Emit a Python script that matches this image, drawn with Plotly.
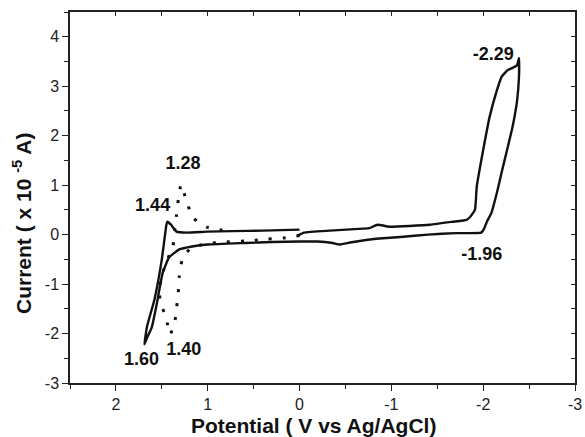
import plotly.graph_objects as go

# Solid CV loop (potential V, current x1e-5 A)
solid_potential = [0.02, -0.05, -0.33, -0.69, -0.76, -0.85, -0.98, -1.42, -1.67, -1.82, -1.85, -1.91,
                   -1.93, -2.00, -2.07, -2.15, -2.20, -2.27, -2.32, -2.37, -2.39,
                   -2.39, -2.37, -2.32, -2.26, -2.20, -2.15, -2.09, -2.04, -2.01, -1.98,
                   -1.70, -1.40, -1.10, -0.87, -0.69, -0.55, -0.44, -0.36, -0.20, 0.00, 0.30, 0.60,
                   1.00, 1.17, 1.31, 1.42, 1.49, 1.56, 1.61, 1.66, 1.69,
                   1.66, 1.58, 1.50, 1.45, 1.44, 1.40, 1.34, 1.23, 1.00, 0.73, 0.40, 0.00]
solid_current = [-0.02, 0.04, 0.08, 0.12, 0.13, 0.20, 0.16, 0.20, 0.26, 0.30, 0.34, 0.50,
                 0.97, 1.71, 2.38, 2.92, 3.19, 3.33, 3.37, 3.43, 3.57,
                 3.19, 2.72, 2.18, 1.71, 1.25, 0.85, 0.44, 0.26, 0.12, 0.04,
                 0.03, 0.00, -0.05, -0.08, -0.12, -0.16, -0.20, -0.17, -0.14, -0.14, -0.15, -0.17,
                 -0.20, -0.24, -0.30, -0.46, -0.77, -1.45, -1.88, -2.08, -2.22,
                 -1.85, -1.31, -0.50, 0.20, 0.26, 0.20, 0.06, 0.04, 0.06, 0.07, 0.08, 0.10]

# Dotted scan
dot_potential = [0.00, 0.18, 0.36, 0.53, 0.80, 1.00, 1.17, 1.24, 1.28, 1.31, 1.32, 1.34, 1.36, 1.41,
                 1.45, 1.50, 1.53, 1.51, 1.45, 1.38, 1.36, 1.34, 1.32, 1.29,
                 1.23, 1.16, 1.01, 0.80]
dot_current = [-0.02, -0.07, -0.09, -0.12, -0.15, -0.18, -0.26, -0.38, -0.52, -0.85, -1.16, -1.49, -1.78, -2.02,
               -1.71, -1.44, -1.18, -0.89, -0.55, -0.24, 0.08, 0.40, 0.71, 1.01,
               0.67, 0.34, 0.15, 0.08]

# Peak labels
label_text = ["-2.29", "-1.96", "1.28", "1.44", "1.60", "1.40"]
label_x = [-2.11, -1.985, 1.27, 1.60, 1.72, 1.26]
label_y = [3.63, -0.42, 1.41, 0.56, -2.55, -2.34]

x_tick_vals = [2, 1, 0, -1, -2, -3]
x_tick_text = ["2", "1", "0", "-1", "-2", "-3"]
y_tick_vals = [4, 3, 2, 1, 0, -1, -2, -3]
y_tick_text = ["4", "3", "2", "1", "0", "-1", "-2", "-3"]

x_title = "Potential ( V vs Ag/AgCl)"
y_title = "Current ( x 10 <sup>-5</sup> A)"

FONT = "Liberation Sans, Arial, sans-serif"
INK = "#111111"

fig = go.Figure()
fig.add_trace(go.Scatter(x=solid_potential, y=solid_current, mode="lines",
                         line=dict(color=INK, width=2.4, shape="spline", smoothing=0.4),
                         showlegend=False, hoverinfo="skip"))
fig.add_trace(go.Scatter(x=dot_potential, y=dot_current, mode="lines",
                         line=dict(color=INK, width=3, dash="3px,11px", shape="spline", smoothing=0.5),
                         showlegend=False, hoverinfo="skip"))
fig.add_trace(go.Scatter(x=label_x, y=label_y, mode="text", text=label_text,
                         textfont=dict(family=FONT, size=18, color=INK, weight="bold"),
                         showlegend=False, hoverinfo="skip"))
# invisible trace for the mirrored top/right axes
fig.add_trace(go.Scatter(x=solid_potential, y=solid_current, mode="lines", xaxis="x2", yaxis="y2",
                         line=dict(width=0), opacity=0, showlegend=False, hoverinfo="skip"))

axis_common = dict(showgrid=False, zeroline=False, linecolor="#222222", linewidth=1.5,
                   tickcolor="#222222", tickwidth=1.3, automargin=False)

fig.update_layout(
    width=585, height=437,
    margin=dict(l=70, r=10, t=12, b=54, autoexpand=False),
    plot_bgcolor="white", paper_bgcolor="white",
    font=dict(family=FONT, color=INK),
    xaxis=dict(range=[2.5, -3], tickvals=x_tick_vals, ticktext=x_tick_text,
               ticks="outside", ticklen=6, showline=True, ticklabeloverflow="allow",
               minor=dict(ticks="outside", dtick=0.5, ticklen=4, tickcolor="#222222"),
               tickfont=dict(size=16, family=FONT, color="#222222"),
               **axis_common),
    yaxis=dict(range=[-3, 4.5], tickvals=y_tick_vals, ticktext=y_tick_text,
               ticks="outside", ticklen=6, showline=True, ticklabeloverflow="allow",
               minor=dict(ticks="outside", dtick=0.5, ticklen=4, tickcolor="#222222"),
               tickfont=dict(size=16, family=FONT, color="#222222"),
               **axis_common),
    xaxis2=dict(range=[2.5, -3], overlaying="x", side="top", anchor="y2", matches="x",
                tickvals=[2.5, 2, 1.5, 1, 0.5, 0, -0.5, -1, -1.5, -2, -2.5, -3],
                ticks="inside", ticklen=4, showticklabels=False, showline=True, **axis_common),
    yaxis2=dict(range=[-3, 4.5], overlaying="y", side="right", anchor="x2", matches="y",
                tickvals=[-3, -2.5, -2, -1.5, -1, -0.5, 0, 0.5, 1, 1.5, 2, 2.5, 3, 3.5, 4, 4.5],
                ticks="inside", ticklen=4, showticklabels=False, showline=True, **axis_common),
    annotations=[
        dict(text=x_title, xref="paper", yref="paper", x=(313 - 70) / 505, y=-(426 - 383) / 371,
             xanchor="center", yanchor="middle", showarrow=False,
             font=dict(size=21, family=FONT, color=INK, weight="bold")),
        dict(text=y_title, xref="paper", yref="paper", x=-(70 - 22) / 505, y=(383 - 223) / 371,
             xanchor="center", yanchor="middle", showarrow=False, textangle=-90,
             font=dict(size=21, family=FONT, color=INK, weight="bold")),
    ],
)

# remove the default page margin so the 585x437 figure fills the window exactly
fig.write_html("out.html", config={"displayModeBar": False},
               post_script="document.body.style.margin='0';document.body.style.overflow='hidden';")
